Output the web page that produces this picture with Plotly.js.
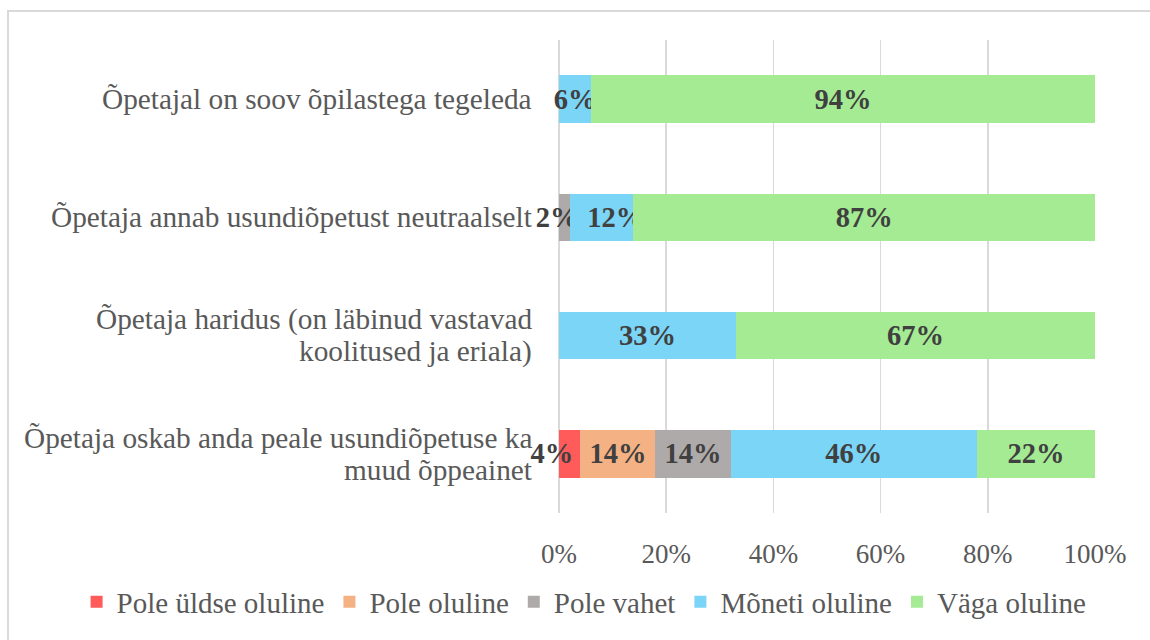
<!DOCTYPE html>
<html>
<head>
<meta charset="utf-8">
<script src="https://cdn.plot.ly/plotly-3.0.1.min.js"></script>
<style>
  html, body { margin: 0; padding: 0; background: #fff; overflow: hidden; }
  #chart { position: absolute; left: 0; top: 0; width: 1150px; height: 640px; }
  #frame { position: absolute; left: 7px; top: 10px; width: 1300px; height: 800px;
           border-left: 2px solid #D9D9D9; border-top: 2px solid #D9D9D9; pointer-events: none; z-index: 5; }
</style>
</head>
<body>
<div id="chart"></div>
<div id="frame"></div>
<script>
// Categories, bottom to top (as plotted)
const categories = [
  "Õpetaja oskab anda peale usundiõpetuse ka<br>muud õppeainet",
  "Õpetaja haridus (on läbinud vastavad<br>koolitused ja eriala)",
  "Õpetaja annab usundiõpetust neutraalselt",
  "Õpetajal on soov õpilastega tegeleda"
];
const seriesNames = ["Pole üldse oluline", "Pole oluline", "Pole vahet", "Mõneti oluline", "Väga oluline"];
const poleYldseOluline = [4, 0, 0, 0];
const poleOluline      = [14, 0, 0, 0];
const poleVahet        = [14, 0, 2, 0];
const moonetiOluline   = [46, 33, 12, 6];
const vagaOluline      = [22, 67, 87, 94];
const xTickVals = [0, 20, 40, 60, 80, 100];
const xTickText = ["0%", "20%", "40%", "60%", "80%", "100%"];

const seriesValues = [poleYldseOluline, poleOluline, poleVahet, moonetiOluline, vagaOluline];
const colors = ["#FF5B5B", "#F4B183", "#AEAAAA", "#7AD5F7", "#A4EB94"];

// label nudges (in non-breaking spaces, negative = nudge left) for crowded small segments
const labelNudge = [[-5, 0, 0, 0], [0, 0, 0, 0], [0, 0, -2, 0], [0, 0, 4, 0], [0, 0, 0, 0]];

const serif = "Liberation Serif, Times New Roman, serif";
const NB = "\u00A0";

function labelText(v, nudge) {
  if (!(v > 0)) return "";
  const s = v + "%";
  if (nudge > 0) return NB.repeat(nudge) + s;
  if (nudge < 0) return s + NB.repeat(-nudge);
  return s;
}

const traces = seriesValues.map((vals, i) => ({
  type: "bar",
  orientation: "h",
  name: seriesNames[i],
  y: categories,
  x: vals,
  marker: { color: colors[i] },
  text: vals.map((v, j) => labelText(v, labelNudge[i][j])),
  textposition: "inside",
  insidetextanchor: "middle",
  textangle: 0,
  constraintext: "none",
  cliponaxis: false,
  textfont: { family: serif, size: 28.5, color: "#404040", weight: "bold" },
  hoverinfo: "none"
}));

// Category labels as centered multi-line annotations
const annotations = [];
const lineGap = 32;
categories.forEach(cat => {
  const lines = cat.split("<br>");
  const n = lines.length;
  lines.forEach((ln, i) => {
    annotations.push({
      xref: "paper", yref: "y", x: 0, y: cat,
      xanchor: "right", yanchor: "middle",
      xshift: -25,
      yshift: ((n - 1) / 2 - i) * lineGap,
      text: ln, showarrow: false, align: "center",
      font: { family: serif, size: 29.3, color: "#595959" }
    });
  });
});

const layout = {
  width: 1150, height: 640,
  margin: { l: 559, r: 55, t: 40, b: 122 },
  paper_bgcolor: "#ffffff", plot_bgcolor: "#ffffff",
  barmode: "stack", barnorm: "percent",
  bargap: 0.598,
  showlegend: true,
  legend: {
    orientation: "h", xref: "paper", yref: "paper",
    x: -0.9, xanchor: "left",
    y: -0.188, yanchor: "middle",
    font: { family: serif, size: 29, color: "#595959" },
    traceorder: "normal", itemwidth: 30
  },
  xaxis: {
    range: [0, 100], tickmode: "array", tickvals: xTickVals, ticktext: xTickText,
    showgrid: true, gridcolor: "#D9D9D9", gridwidth: 1.5,
    zeroline: true, zerolinecolor: "#D9D9D9", zerolinewidth: 1.5,
    showline: false, ticks: "", ticklabelstandoff: 22,
    tickfont: { family: serif, size: 27, color: "#595959" },
    fixedrange: true
  },
  yaxis: {
    showticklabels: false, showgrid: false, zeroline: false, showline: false, ticks: "",
    fixedrange: true
  },
  annotations: annotations
};

Plotly.newPlot("chart", traces, layout, { displayModeBar: false, staticPlot: true });
</script>
</body>
</html>
